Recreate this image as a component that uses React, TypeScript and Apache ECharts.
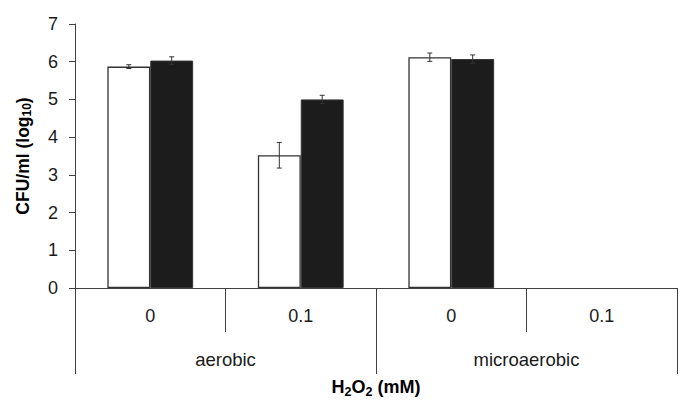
import React, { useEffect, useRef } from "react";
import * as echarts from "echarts";

const doseLabels = ["0", "0.1", "0", "0.1"];
const conditionLabels = ["aerobic", "microaerobic"];
const whiteValues: (number | null)[] = [5.87, 3.52, 6.12, null];
const whiteErrors: (number | null)[] = [0.05, 0.34, 0.11, null];
const blackValues: (number | null)[] = [6.03, 5.0, 6.07, null];
const blackErrors: (number | null)[] = [0.1, 0.11, 0.11, null];
const yTicks = [0, 1, 2, 3, 4, 5, 6, 7];

const FONT = "Arial, 'Liberation Sans', sans-serif";
const AXIS_COLOR = "#404040";
const BAR_GAP_FRACTION = 0.43;

export default function App() {
  const ref = useRef<HTMLDivElement>(null);

  useEffect(() => {
    if (!ref.current) return;
    const chart = echarts.init(ref.current, undefined, { renderer: "svg" });

    const errData: number[][] = [];
    whiteValues.forEach((v, i) => {
      if (v != null && whiteErrors[i] != null) errData.push([i, v, whiteErrors[i] as number, 0]);
    });
    blackValues.forEach((v, i) => {
      if (v != null && blackErrors[i] != null) errData.push([i, v, blackErrors[i] as number, 1]);
    });

    const option: any = {
      animation: false,
      backgroundColor: "#ffffff",
      textStyle: { fontFamily: FONT },
      grid: { left: 75, right: 8, top: 24, bottom: 130, containLabel: false },
      xAxis: [
        {
          type: "category",
          data: doseLabels,
          position: "bottom",
          axisLine: { show: true, lineStyle: { color: AXIS_COLOR, width: 1 } },
          axisTick: { show: true, length: 44, interval: 0, lineStyle: { color: AXIS_COLOR } },
          axisLabel: { margin: 19, fontSize: 18, color: "#1a1a1a", fontFamily: FONT, interval: 0 },
        },
        {
          type: "category",
          data: conditionLabels,
          position: "bottom",
          axisLine: { show: false },
          axisTick: { show: true, length: 86, interval: 0, lineStyle: { color: AXIS_COLOR } },
          axisLabel: { margin: 62, fontSize: 18.5, color: "#1a1a1a", fontFamily: FONT, interval: 0 },
          name: "{b|H}{s|2}{b|O}{s|2}{b| (mM)}",
          nameLocation: "middle",
          nameGap: 88,
          nameTextStyle: {
            fontFamily: FONT,
            rich: {
              b: { fontSize: 18, fontWeight: "bold", color: "#000", fontFamily: FONT },
              s: { fontSize: 12.5, fontWeight: "bold", color: "#000", fontFamily: FONT, padding: [9, 0, 0, 0] },
            },
          },
        },
      ],
      yAxis: {
        type: "value",
        min: yTicks[0],
        max: yTicks[yTicks.length - 1],
        interval: 1,
        axisLine: { show: true, lineStyle: { color: AXIS_COLOR, width: 1 } },
        axisTick: { show: true, length: 6, lineStyle: { color: AXIS_COLOR } },
        splitLine: { show: false },
        axisLabel: { margin: 17, fontSize: 18, color: "#1a1a1a", fontFamily: FONT },
        name: "{b|CFU/ml (log}{s|10}{b|)}",
        nameLocation: "middle",
        nameRotate: 90,
        nameGap: 42,
        nameTextStyle: {
          fontFamily: FONT,
          rich: {
            b: { fontSize: 17.5, fontWeight: "bold", color: "#000", fontFamily: FONT },
            s: { fontSize: 12, fontWeight: "bold", color: "#000", fontFamily: FONT, padding: [9, 0, 0, 0] },
          },
        },
      },
      series: [
        {
          type: "bar",
          name: "white",
          xAxisIndex: 0,
          data: whiteValues.map((v) => (v == null ? "-" : v)),
          barGap: "0%",
          barCategoryGap: BAR_GAP_FRACTION * 100 + "%",
          itemStyle: { color: "#ffffff", borderColor: "#333333", borderWidth: 1.3 },
        },
        {
          type: "bar",
          name: "black",
          xAxisIndex: 0,
          data: blackValues.map((v) => (v == null ? "-" : v)),
          barGap: "0%",
          barCategoryGap: BAR_GAP_FRACTION * 100 + "%",
          itemStyle: { color: "#1c1c1c", borderColor: "#333333", borderWidth: 1 },
        },
        {
          type: "custom",
          xAxisIndex: 0,
          z: 10,
          data: errData,
          renderItem: (params: any, api: any) => {
            const ci = api.value(0);
            const v = api.value(1);
            const e = api.value(2);
            const s = api.value(3);
            const band = api.size([1, 0])[0];
            const bw = (band * (1 - BAR_GAP_FRACTION)) / 2;
            const cx = api.coord([ci, v])[0] + (s === 0 ? -bw / 2 : bw / 2);
            const top = api.coord([ci, v + e])[1];
            const bot = api.coord([ci, v - e])[1];
            const cap = 2.5;
            const style = { stroke: "#333333", lineWidth: 1 };
            return {
              type: "group",
              children: [
                { type: "line", shape: { x1: cx, y1: top, x2: cx, y2: bot }, style },
                { type: "line", shape: { x1: cx - cap, y1: top, x2: cx + cap, y2: top }, style },
                { type: "line", shape: { x1: cx - cap, y1: bot, x2: cx + cap, y2: bot }, style },
              ],
            };
          },
        },
      ],
    };

    chart.setOption(option);
    return () => chart.dispose();
  }, []);

  return (
    <div
      ref={ref}
      style={{ position: "fixed", left: 0, top: 0, width: 685, height: 418, background: "#fff" }}
    />
  );
}
